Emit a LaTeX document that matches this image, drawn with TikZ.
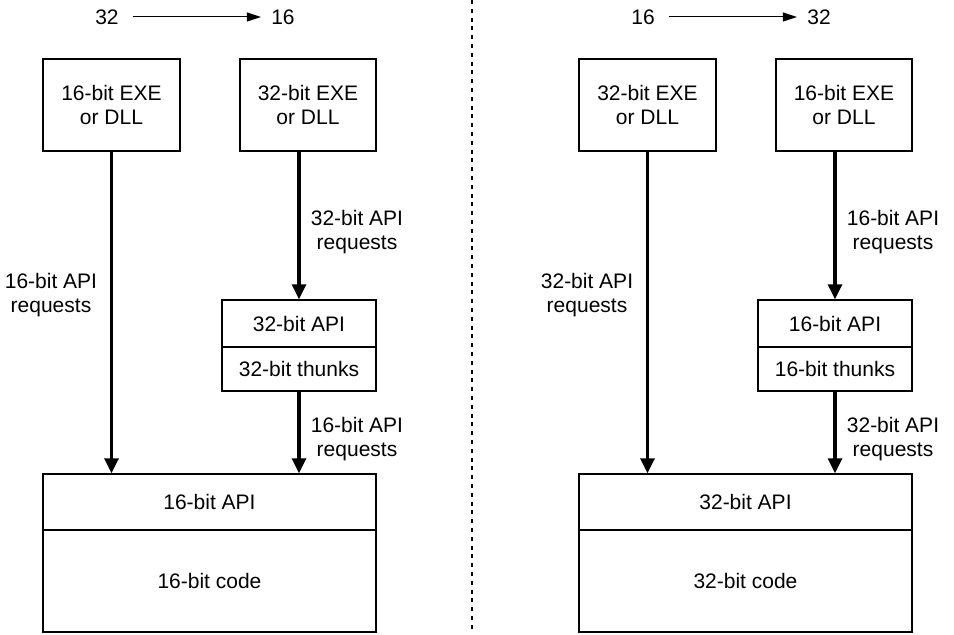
\documentclass[tikz,border=0pt]{standalone}
\usepackage{fontspec}
\setmainfont{Liberation Sans}
\usetikzlibrary{arrows.meta}
\begin{document}
\begin{tikzpicture}[x=0.5pt,y=-0.5pt,font=\fontsize{10.5}{12}\selectfont,
  box/.style={draw,line width=0.7pt,inner sep=0pt,align=center},
  req/.style={align=center,inner sep=0pt},
  call/.style={line width=1.6pt,-{Triangle[width=7pt,length=7.5pt]}},
  dir/.style={line width=0.5pt,shorten <=7pt,shorten >=5pt,-{Triangle[width=4.5pt,length=7pt]}}]
\useasboundingbox (0,0) rectangle (954,635);
\draw[line width=0.6pt,dash pattern=on 2pt off 2.4pt] (472,0)--(472,632);
\foreach \dx/\a/\b/\h in {0/16/32/l,536/32/16/r}{
\node[inner sep=0pt] (\h from) at (107+\dx,17) {\b};\node[inner sep=0pt] (\h to) at (283+\dx,17) {\a};\draw[dir] (\h from.east)--(\h to.west);
\node[box,minimum width=68.5pt,minimum height=46pt] (\h exe) at (111.5+\dx,105) {\a-bit EXE\\or DLL};\node[box,minimum width=68pt,minimum height=46pt] (\h guest) at (308+\dx,105) {\b-bit EXE\\or DLL};
\node[box,minimum width=77pt,minimum height=23.5pt] (\h thunkapi) at (299+\dx,323.5) {\b-bit API};\node[box,minimum width=77pt,minimum height=22pt] (\h thunks) at (299+\dx,369) {\b-bit thunks};
\node[box,minimum width=166.5pt,minimum height=28pt] (\h api) at (209.5+\dx,502) {\a-bit API};\node[box,minimum width=166.5pt,minimum height=51pt] (\h code) at (209.5+\dx,581) {\a-bit code};
\draw[call] (\h exe.south)--(\h exe.south |- \h api.north);\draw[call] (\h thunkapi.north |- \h guest.south)--(\h thunkapi.north);\draw[call] (\h thunks.south)--(\h thunks.south |- \h api.north);
\node[req] (\h directreq) at (51+\dx,295) {\a-bit API\\requests};\node[req] (\h guestreq) at (357+\dx,232) {\b-bit API\\requests};\node[req] (\h thunkreq) at (357+\dx,439) {\a-bit API\\requests};
}
\end{tikzpicture}
\end{document}
